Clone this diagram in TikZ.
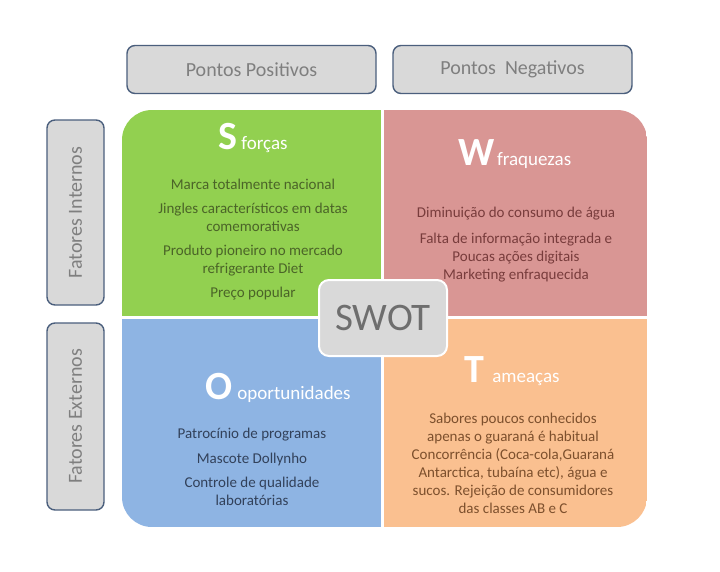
\documentclass[tikz,border=0pt]{standalone}
\usepackage{fontspec}
\setmainfont{Carlito}
\definecolor{sgreen}{RGB}{146,208,80}
\definecolor{wred}{RGB}{217,150,148}
\definecolor{oblue}{RGB}{142,180,227}
\definecolor{torange}{RGB}{250,192,144}
\definecolor{boxg}{RGB}{217,217,217}
\definecolor{bordc}{RGB}{75,95,125}
\definecolor{txtg}{RGB}{127,127,127}
\definecolor{swotg}{RGB}{110,110,110}
\definecolor{sgtxt}{RGB}{75,100,40}
\definecolor{wrtxt}{RGB}{120,60,60}
\definecolor{obtxt}{RGB}{50,65,90}
\definecolor{totxt}{RGB}{125,80,45}
\begin{document}
\begin{tikzpicture}[x=1pt,y=-1pt,
  hdr/.style={draw=bordc, line width=1.4pt, fill=boxg, rounded corners=8pt, text=txtg,
    font=\fontsize{20}{22}\selectfont, inner sep=0pt},
  item/.style={align=center, font=\fontsize{15}{18}\selectfont, inner sep=0pt, anchor=north},
  ttl/.style={anchor=base, text=white, inner sep=0pt}
]
\useasboundingbox (0,0) rectangle (720,571);
\fill[white] (0,0) rectangle (720,571);
% header boxes
\node[hdr, minimum width=249pt, minimum height=48pt] (pp) at (251.5,69.5) {Pontos Positivos};
\node[hdr, minimum width=239pt, minimum height=48pt] (pn) at (512.5,69.5) {Pontos\ \ Negativos};
\node[hdr, rotate=90, minimum width=185pt, minimum height=57pt] (fi) at (75.5,212.5) {Fatores Internos};
\node[hdr, rotate=90, minimum width=187pt, minimum height=57pt] (fe) at (75.5,416.5) {Fatores Externos};
% quadrants
\begin{scope}
\clip[rounded corners=30pt] (122,110) rectangle (647,527);
\fill[sgreen] (122,110) rectangle (381,316);
\fill[wred] (384,110) rectangle (647,316);
\fill[oblue] (122,319) rectangle (381,527);
\fill[torange] (384,319) rectangle (647,527);
\end{scope}
% titles
\node[ttl] (st) at (253,149) {{\fontsize{40}{40}\selectfont\bfseries S}\hspace{4pt}{\fontsize{19}{22}\selectfont forças}};
\node[ttl] (wt) at (515,165) {{\fontsize{40}{40}\selectfont\bfseries W}\hspace{2pt}{\fontsize{19}{22}\selectfont fraquezas}};
\node[ttl] (ot) at (278,399) {{\fontsize{40}{40}\selectfont\bfseries O}\hspace{5pt}{\fontsize{19}{22}\selectfont oportunidades}};
\node[ttl] (tt) at (512,382) {{\fontsize{40}{40}\selectfont\bfseries T}\hspace{8pt}{\fontsize{19}{22}\selectfont ameaças}};
% items
\node[item, text=sgtxt] (si) at (253,179) {Marca totalmente nacional\\[6pt] Jingles característicos em datas\\ comemorativas\\[6pt] Produto pioneiro no mercado\\ refrigerante Diet\\[6pt] Preço popular};
\node[item, text=wrtxt] (wi) at (516,207) {Diminuição do consumo de água\\[8pt] Falta de informação integrada e\\ Poucas ações digitais\\ Marketing enfraquecida};
\node[item, text=obtxt] (oi) at (252,428) {Patrocínio de programas\\[7pt] Mascote Dollynho\\[6pt] Controle de qualidade\\ laboratórias};
\node[item, text=totxt] (ti) at (513,413) {Sabores poucos conhecidos\\ apenas o guaraná é habitual\\ Concorrência (Coca-cola,Guaraná\\ Antarctica, tubaína etc), água e\\ sucos. Rejeição de consumidores\\ das classes AB e C};
% SWOT
\node[draw=white, line width=2pt, fill=boxg, rounded corners=10pt, minimum width=128pt,
  minimum height=76pt, text=swotg, font=\fontsize{39}{41}\selectfont, inner sep=0pt] (swot) at (383,318) {SWOT};
\end{tikzpicture}
\end{document}
